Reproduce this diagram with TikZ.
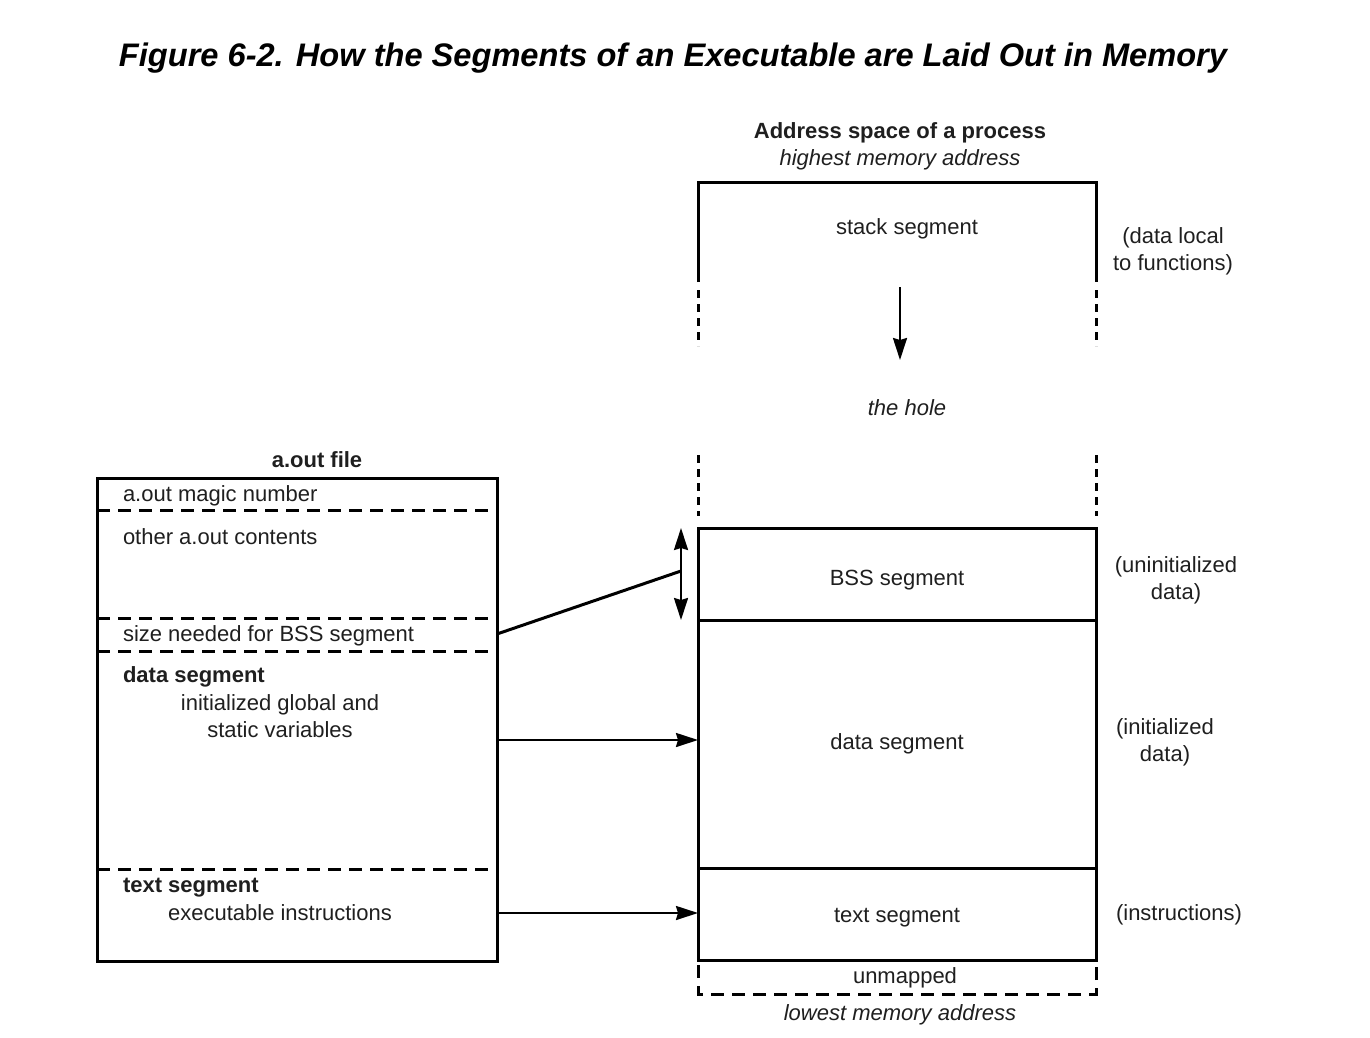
\documentclass[tikz,border=0pt]{standalone}
\usepackage{fontspec}
\setmainfont{Liberation Sans}
\usetikzlibrary{arrows.meta}
\begin{document}
\begin{tikzpicture}[x=0.5pt,y=-0.5pt,
  every node/.style={font=\fontsize{11}{13.5}\selectfont, inner sep=0pt, outer sep=0pt, text=black!88},
  seg/.style={draw, line width=1.5pt, minimum width=199pt, anchor=north west},
  wall/.style={line width=1.5pt},
  dwall/.style={line width=1.5pt, dash pattern=on 4pt off 3pt},
  fdash/.style={line width=1.5pt, dash pattern=on 6.5pt off 4pt},
  tip/.style={-{Stealth[length=11pt,width=7pt,inset=1pt]}, line width=1.1pt},
  dtip/.style={{Stealth[length=11pt,width=7pt,inset=1pt]}-{Stealth[length=11pt,width=7pt,inset=1pt]}, line width=1.1pt},
  lbl/.style={align=center},
  hd/.style={font=\fontsize{11}{13.5}\selectfont\bfseries},
  it/.style={font=\fontsize{11}{13.5}\selectfont\itshape}]
\useasboundingbox (0,0) rectangle (1370,1038);

% title
\node[font=\fontsize{16.3}{18}\selectfont\bfseries\itshape, text=black] (title) at (673,58)
  {Figure 6-2. How the Segments of an Executable are Laid Out in Memory};

% ---------- address space ----------
\node[hd] (ashead) at (900,133) {Address space of a process};
\node[it] (high) at (900,160) {highest memory address};

\draw[wall] (698,282) -- (698,182) -- (1096,182) -- (1096,282);
\draw[dwall] (698,290) -- (698,346);
\draw[dwall] (1096,290) -- (1096,346);
\draw[dwall] (698,455) -- (698,516);
\draw[dwall] (1096,455) -- (1096,516);
\node (stack) at (907,229) {stack segment};
\node[lbl] (stacknote) at (1173,251) {(data local\\to functions)};
\coordinate (stkA) at (900,287);
\coordinate (stkB) at (900,360);
\draw[tip] (stkA) -- (stkB);
\node[it] (hole) at (907,408) {the hole};

\node[seg, minimum height=46pt, text height=11pt, text depth=0pt] (bss) at (698,528) {BSS segment};
\node[seg, minimum height=124pt] (data) at (698,620) {data segment};
\node[seg, minimum height=46pt, text height=9.5pt, text depth=1pt] (text) at (698,868) {text segment};

\node[lbl] (bssnote) at (1176,580) {(uninitialized\\data)};
\node[lbl] (datanote) at (1165,742) {(initialized\\data)};
\node (textnote) at (1179,915) {(instructions)};

\draw[fdash] (698,965) -- (698,994) -- (1096,994) -- (1096,965);
\node (unmapped) at (905,978) {unmapped};
\node[it] (low) at (900,1015) {lowest memory address};

% ---------- a.out file ----------
\node[hd] (aouthead) at (317,460) {a.out file};
\node[draw, line width=1.5pt, minimum width=200pt, minimum height=241.5pt, anchor=north west] (aout) at (97,478) {};
\draw[fdash] (97,510) -- (497,510);
\draw[fdash] (97,618) -- (497,618);
\draw[fdash] (97,651) -- (497,651);
\draw[fdash] (97,869) -- (497,869);

\node[anchor=west] (magic) at (123,496) {a.out magic number};
\node[anchor=west] (other) at (123,537) {other a.out contents};
\node[anchor=west] (bsssize) at (123,636) {size needed for BSS segment};
\node[anchor=west, hd] (dseg) at (123,677) {data segment};
\node[lbl] (dsegtxt) at (280,716) {initialized global and\\static variables};
\node[anchor=west, hd] (tseg) at (123,888) {text segment};
\node (tsegtxt) at (280,913) {executable instructions};

% ---------- connectors ----------
\coordinate (bssrow) at (497,634);
\coordinate (bssmid) at (681,571);
\coordinate (bsstop) at (681,528);
\coordinate (bssbot) at (681,620);
\draw[dtip] (bsstop) -- (bssbot);
\draw[line width=1.5pt] (bssrow) -- (bssmid);

\coordinate (datarow) at (497,740);
\coordinate (textrow) at (497,913);
\draw[tip] (datarow) -- (data.west |- datarow);
\draw[tip] (textrow) -- (text.west |- textrow);
\end{tikzpicture}
\end{document}
